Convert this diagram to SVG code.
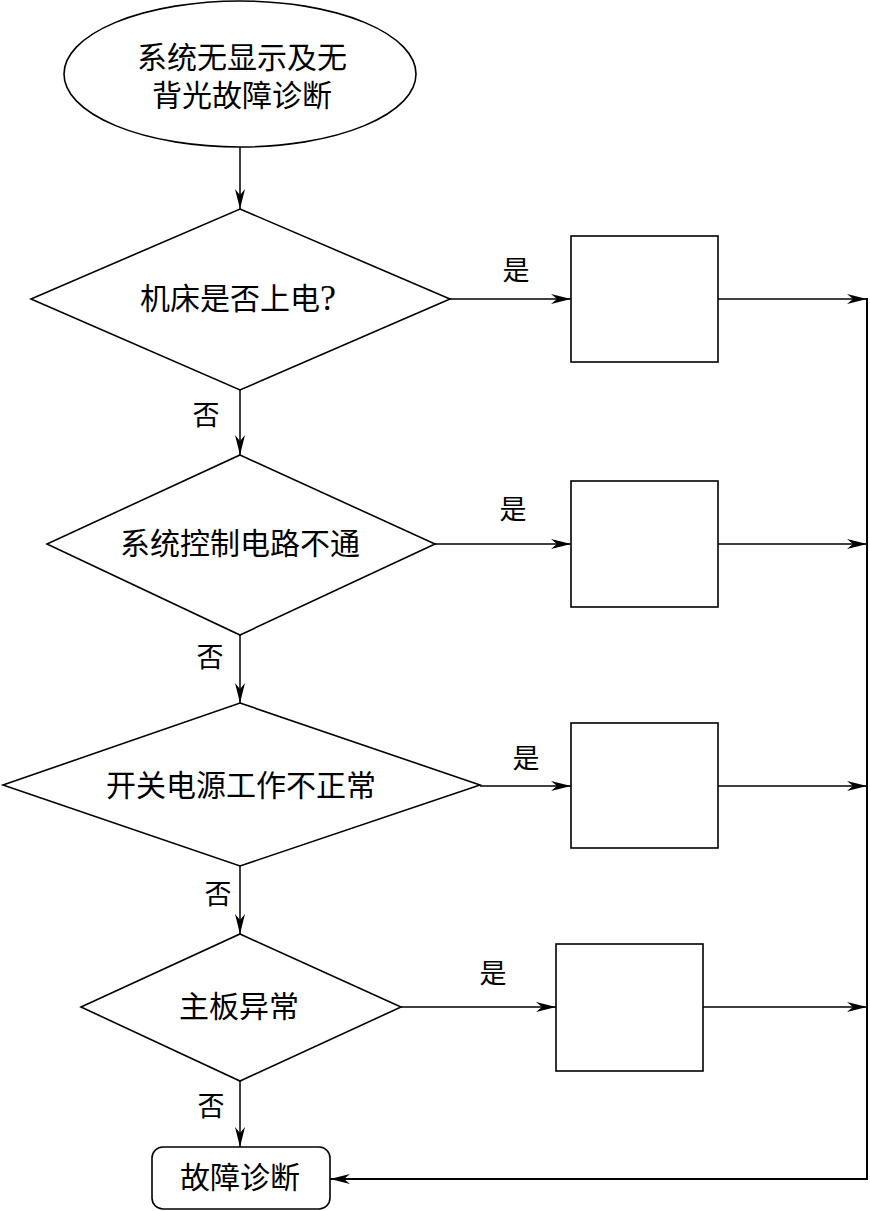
<svg xmlns="http://www.w3.org/2000/svg" width="870" height="1211" viewBox="0 0 870 1211">
<style>
.s{fill:#fff;stroke:#000;stroke-width:1.6}
.t{font-family:"Liberation Serif","Noto Sans CJK SC",serif;font-size:30px;fill:#000;text-anchor:middle;dominant-baseline:central}
.l{font-family:"Liberation Serif","Noto Sans CJK SC",serif;font-size:27px;fill:#000;text-anchor:middle;dominant-baseline:central}
.c{fill:none;stroke:#000;stroke-width:1.5}
</style>
<defs>
<marker id="a" markerUnits="userSpaceOnUse" markerWidth="22" markerHeight="12" refX="20" refY="6" orient="auto">
<path d="M0,1 L20,6 L0,11 L6,6 Z" fill="#000"/>
</marker>
</defs>
<rect width="870" height="1211" fill="#fff"/>
<g id="connectors">
<path class="c" d="M240,147 V209" marker-end="url(#a)"/>
<path class="c" d="M240,390 V455" marker-end="url(#a)"/>
<path class="c" d="M240,635 V703" marker-end="url(#a)"/>
<path class="c" d="M240,866 V934" marker-end="url(#a)"/>
<path class="c" d="M240,1081 V1147" marker-end="url(#a)"/>
<path class="c" d="M450,299 H571" marker-end="url(#a)"/>
<path class="c" d="M435,544 H571" marker-end="url(#a)"/>
<path class="c" d="M480,786 H571" marker-end="url(#a)"/>
<path class="c" d="M401,1007 H556" marker-end="url(#a)"/>
<path class="c" d="M718,299 H867" marker-end="url(#a)"/>
<path class="c" d="M718,544 H867" marker-end="url(#a)"/>
<path class="c" d="M718,786 H867" marker-end="url(#a)"/>
<path class="c" d="M703,1007 H867" marker-end="url(#a)"/>
<path class="c" style="stroke-width:2" d="M867,298 V1179 H330" marker-end="url(#a)"/>
<text class="l" x="516" y="271">是</text>
<text class="l" x="513" y="510">是</text>
<text class="l" x="526" y="759">是</text>
<text class="l" x="493" y="974">是</text>
<text class="l" x="206" y="416">否</text>
<text class="l" x="210" y="658">否</text>
<text class="l" x="218" y="895">否</text>
<text class="l" x="211" y="1107">否</text>
</g>
<g id="start">
<ellipse class="s" cx="240" cy="74" rx="176" ry="73"/>
<text class="t" x="242" y="57">系统无显示及无</text>
<text class="t" x="242" y="95">背光故障诊断</text>
</g>
<g id="d1">
<polygon class="s" points="240,209 450,299 240,390 31,299"/>
<text class="t" x="238" y="298">机床是否上电<tspan style="font-size:36px">?</tspan></text>
</g>
<g id="d2">
<polygon class="s" points="240,455 435,544 240,635 47,544"/>
<text class="t" x="240" y="543">系统控制电路不通</text>
</g>
<g id="d3">
<polygon class="s" points="240,703 480,785 240,866 3,785"/>
<text class="t" x="241" y="785">开关电源工作不正常</text>
</g>
<g id="d4">
<polygon class="s" points="240,934 401,1007 240,1081 81,1007"/>
<text class="t" x="239" y="1006">主板异常</text>
</g>
<g id="b1"><rect class="s" x="571" y="236" width="147" height="126"/></g>
<g id="b2"><rect class="s" x="571" y="481" width="147" height="126"/></g>
<g id="b3"><rect class="s" x="571" y="723" width="147" height="125"/></g>
<g id="b4"><rect class="s" x="556" y="944" width="147" height="127"/></g>
<g id="end">
<rect class="s" x="152" y="1147" width="178" height="62" rx="11"/>
<text class="t" x="240" y="1177">故障诊断</text>
</g>
</svg>
